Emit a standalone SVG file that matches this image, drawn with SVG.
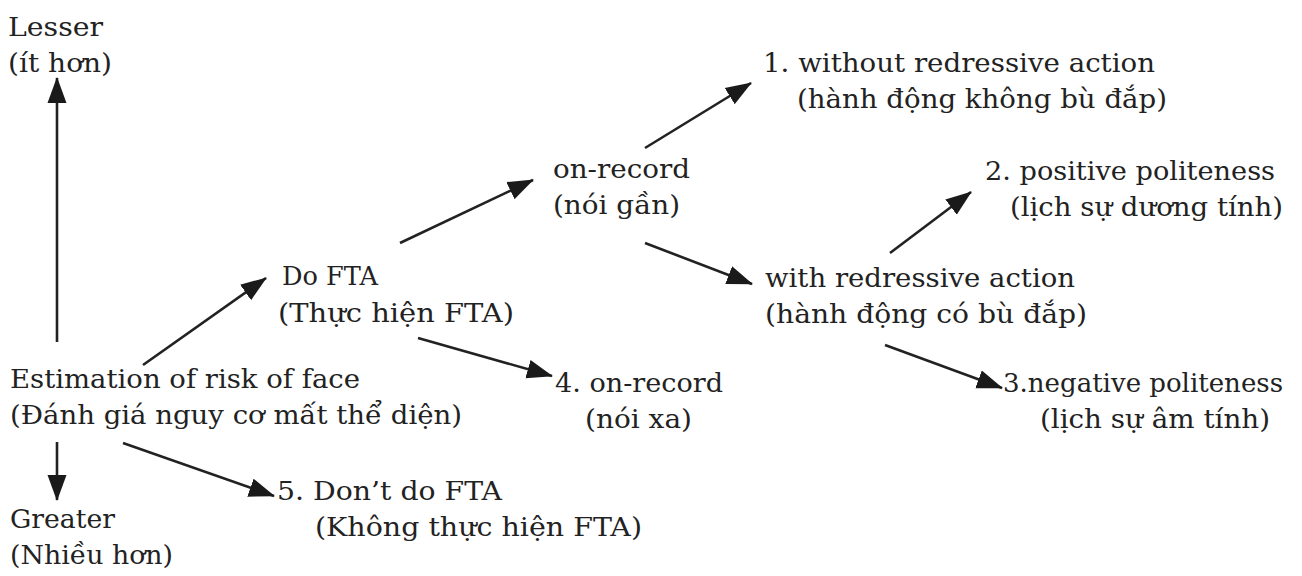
<svg xmlns="http://www.w3.org/2000/svg" width="1302" height="576" viewBox="0 0 1302 576">
<style>
text{font-family:"DejaVu Serif","Liberation Serif",serif;font-size:26px;fill:#222}
.c line{stroke:#222;stroke-width:2.6;fill:none}
</style>
<defs>
<marker id="ah" markerUnits="userSpaceOnUse" markerWidth="26" markerHeight="22" viewBox="0 0 26 22" refX="25" refY="11" orient="auto">
<path d="M0,1.5 L26,11 L0,20.5 Z" fill="#1a1a1a"/>
</marker>
</defs>
<rect width="1302" height="576" fill="#fff"/>
<g class="c" id="connectors">
<line x1="57" y1="342" x2="57" y2="78" marker-end="url(#ah)"/>
<line x1="57" y1="442" x2="57" y2="500" marker-end="url(#ah)"/>
<line x1="143" y1="365" x2="266" y2="278" marker-end="url(#ah)"/>
<line x1="123" y1="443" x2="274" y2="496" marker-end="url(#ah)"/>
<line x1="400" y1="243" x2="533" y2="180" marker-end="url(#ah)"/>
<line x1="418" y1="338" x2="552" y2="376" marker-end="url(#ah)"/>
<line x1="645" y1="148" x2="751" y2="83" marker-end="url(#ah)"/>
<line x1="645" y1="243" x2="752" y2="284" marker-end="url(#ah)"/>
<line x1="890" y1="253" x2="971" y2="192" marker-end="url(#ah)"/>
<line x1="885" y1="345" x2="1002" y2="388" marker-end="url(#ah)"/>
</g>
<g id="lesser"><text x="8" y="36" textLength="95" lengthAdjust="spacingAndGlyphs">Lesser</text><text x="8" y="72" textLength="104" lengthAdjust="spacingAndGlyphs">(ít hơn)</text></g>
<g id="estimation"><text x="10" y="388" textLength="350" lengthAdjust="spacingAndGlyphs">Estimation of risk of face</text><text x="10" y="424" textLength="452" lengthAdjust="spacingAndGlyphs">(Đánh giá nguy cơ mất thể diện)</text></g>
<g id="greater"><text x="10" y="528" textLength="105" lengthAdjust="spacingAndGlyphs">Greater</text><text x="10" y="564" textLength="163" lengthAdjust="spacingAndGlyphs">(Nhiều hơn)</text></g>
<g id="dofta"><text x="282" y="285" textLength="96" lengthAdjust="spacingAndGlyphs">Do FTA</text><text x="278" y="322" textLength="236" lengthAdjust="spacingAndGlyphs">(Thực hiện FTA)</text></g>
<g id="dontdo"><text x="277" y="500" textLength="225" lengthAdjust="spacingAndGlyphs">5. Don’t do FTA</text><text x="315" y="536" textLength="327" lengthAdjust="spacingAndGlyphs">(Không thực hiện FTA)</text></g>
<g id="onrecord"><text x="553" y="178" textLength="137" lengthAdjust="spacingAndGlyphs">on-record</text><text x="553" y="214" textLength="127" lengthAdjust="spacingAndGlyphs">(nói gần)</text></g>
<g id="offrecord"><text x="555" y="392" textLength="168" lengthAdjust="spacingAndGlyphs">4. on-record</text><text x="585" y="428" textLength="107" lengthAdjust="spacingAndGlyphs">(nói xa)</text></g>
<g id="without"><text x="763" y="72" textLength="392" lengthAdjust="spacingAndGlyphs">1. without redressive action</text><text x="797" y="108" textLength="370" lengthAdjust="spacingAndGlyphs">(hành động không bù đắp)</text></g>
<g id="with"><text x="765" y="287" textLength="310" lengthAdjust="spacingAndGlyphs">with redressive action</text><text x="765" y="323" textLength="322" lengthAdjust="spacingAndGlyphs">(hành động có bù đắp)</text></g>
<g id="positive"><text x="985" y="180" textLength="290" lengthAdjust="spacingAndGlyphs">2. positive politeness</text><text x="1010" y="216" textLength="273" lengthAdjust="spacingAndGlyphs">(lịch sự dương tính)</text></g>
<g id="negative"><text x="1003" y="392" textLength="280" lengthAdjust="spacingAndGlyphs">3.negative politeness</text><text x="1040" y="428" textLength="230" lengthAdjust="spacingAndGlyphs">(lịch sự âm tính)</text></g>
</svg>
